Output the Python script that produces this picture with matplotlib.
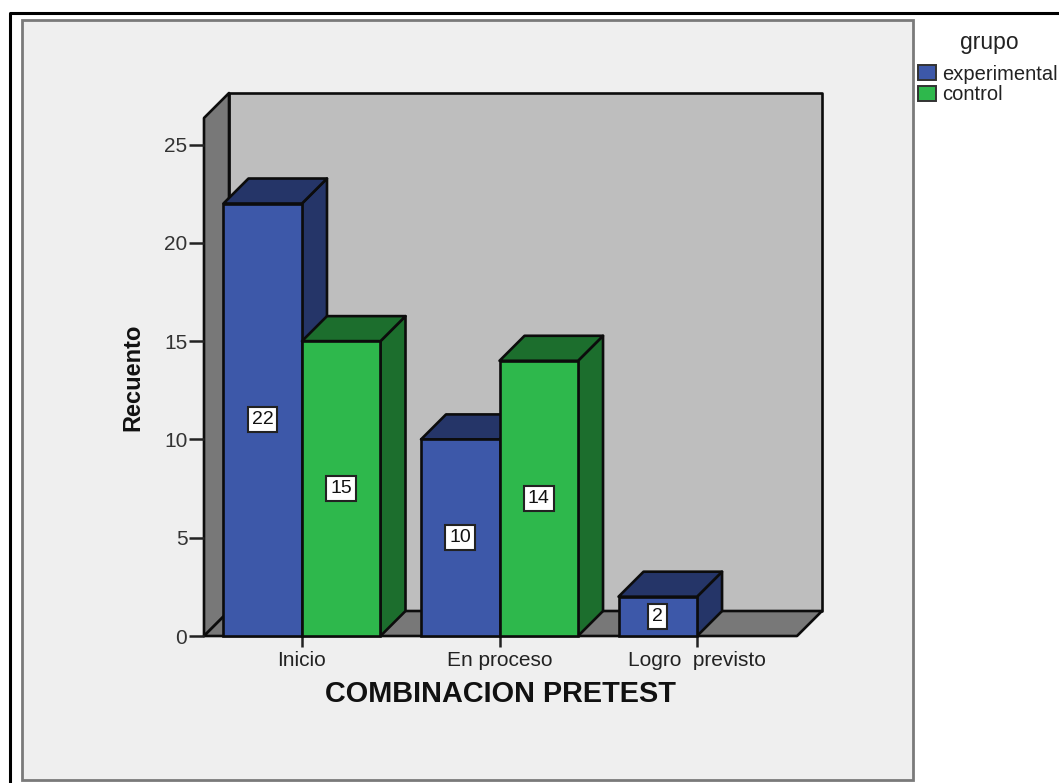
import matplotlib
matplotlib.use('Agg')
import matplotlib.pyplot as plt
from matplotlib.patches import Polygon, Rectangle
from matplotlib.lines import Line2D
from matplotlib.transforms import Affine2D

categorias = ['Inicio', 'En proceso', 'Logro  previsto']
experimental = [22, 10, 2]
control = [15, 14, 0]
grupos = ['experimental', 'control']
yticks = [0, 5, 10, 15, 20, 25]

W, H = 1059, 783
AZUL = ('#3d58a9', '#253568')
VERDE = ('#2eb84c', '#1c6e2d')
BORDE = '#0c0c0c'

plt.rcParams['font.family'] = ['Liberation Sans', 'DejaVu Sans']

fig = plt.figure(figsize=(W / 100, H / 100), dpi=100, facecolor='white')
# pixel coordinates with the origin at the top left, for the panels and the legend
px = Affine2D().scale(1, -1).translate(0, H)

fig.add_artist(Rectangle((22, 20), 891, 760, transform=px, fc='#efefef', ec='#7a7a7a', lw=2, zorder=-2))
fig.add_artist(Line2D([9.5, 9.5, W], [H, 12.5, 12.5], transform=px, color='black', lw=2.2, zorder=-1))

ax = fig.add_axes([204 / W, (H - 636) / H, 593 / W, 518 / H])
ax.set_xlim(-0.496, 2.506)
ax.set_ylim(0, 26.35)
ax.patch.set_visible(False)
for s in ax.spines.values():
    s.set_visible(False)

# depth of the 3d effect, in data units
dx = 25 / 197.5
dy = 25 / 19.66
ancho = 78.5 / 197.5
x0, x1 = ax.get_xlim()
y1 = ax.get_ylim()[1]


def cara(puntos, color, z):
    ax.add_patch(Polygon(puntos, closed=True, fc=color, ec=BORDE, lw=1.9,
                         joinstyle='round', clip_on=False, zorder=z))


# back wall, left wall and floor
cara([(x0 + dx, dy), (x1 + dx, dy), (x1 + dx, y1 + dy), (x0 + dx, y1 + dy)], '#bebebe', 1)
cara([(x0, 0), (x0 + dx, dy), (x0 + dx, y1 + dy), (x0, y1)], '#787878', 1.1)
cara([(x0, 0), (x1, 0), (x1 + dx, dy), (x0 + dx, dy)], '#787878', 1.2)


def barra(x, v, colores, z):
    if v == 0:
        return
    cara([(x + ancho, 0), (x + ancho + dx, dy), (x + ancho + dx, v + dy), (x + ancho, v)], colores[1], z)
    cara([(x, v), (x + dx, v + dy), (x + ancho + dx, v + dy), (x + ancho, v)], colores[1], z)
    ax.bar(x, v, width=ancho, align='edge', color=colores[0], edgecolor=BORDE, linewidth=1.9,
           clip_on=False, zorder=z + 0.1)
    ax.text(x + ancho / 2, v / 2, str(v), ha='center', va='center', fontsize=14, color='#111111',
            zorder=z + 0.2, bbox=dict(boxstyle='square,pad=0.2', fc='white', ec='#222222', lw=1.5))


for i in range(len(categorias)):
    barra(i - ancho, experimental[i], AZUL, 2 + i)
    barra(i, control[i], VERDE, 2.5 + i)

ax.set_xticks(range(len(categorias)), categorias)
ax.set_yticks(yticks)
ax.tick_params(axis='x', length=8, width=1.8, pad=3, labelsize=15, color='#222222', labelcolor='#222222')
ax.tick_params(axis='y', length=11, width=1.8, pad=1, labelsize=15, color='#222222', labelcolor='#333333')
for t in ax.get_xticklines() + ax.get_yticklines():
    t.set_zorder(10)

fig.text(133, 377, 'Recuento', transform=px, rotation=90, ha='center', va='center',
         fontsize=17, fontweight='bold', color='#111111')
fig.text(500, 694, 'COMBINACION PRETEST', transform=px, ha='center', va='center',
         fontsize=20.8, fontweight='bold', color='#111111')

# legend
fig.text(989, 43, 'grupo', transform=px, ha='center', va='center', fontsize=16.5, color='#222222')
for j, (g, c) in enumerate(zip(grupos, (AZUL, VERDE))):
    fig.add_artist(Rectangle((918, 65 + 20.5 * j), 18, 15, transform=px, fc=c[0], ec='#333333', lw=1.4))
    fig.text(942, 74.5 + 20.5 * j, g, transform=px, ha='left', va='center', fontsize=14.5, color='#222222')

fig.savefig('out.png', dpi=100)
